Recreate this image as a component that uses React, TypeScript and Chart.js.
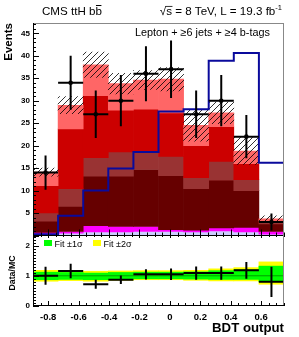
import React, { useEffect, useRef } from 'react';
import { Chart, registerables } from 'chart.js';

Chart.register(...registerables);

const FONT = "'Liberation Sans', Arial, Helvetica, sans-serif";

// BDT output bin edges (10 bins)
const binEdges = [-0.9, -0.735, -0.57, -0.405, -0.24, -0.075, 0.09, 0.255, 0.42, 0.585, 0.75];
const xTickValues = [-0.8, -0.6, -0.4, -0.2, 0, 0.2, 0.4, 0.6];
const xTickLabels = ['-0.8', '-0.6', '-0.4', '-0.2', '0', '0.2', '0.4', '0.6'];
const yTickValues = [5, 10, 15, 20, 25, 30, 35, 40, 45];
const ratioTickValues = [0, 1, 2];

// background components (bottom -> top of stack)
const ttV = [0.4, 0.5, 0.8, 0.8, 0.9, 0.9, 0.8, 1.0, 0.8, 0.3];
const singleT = [0.3, 0.4, 1.4, 1.2, 1.1, 0.4, 0.4, 0.7, 1.0, 0.6];
const ttbb = [2.5, 5.6, 11.0, 11.2, 12.7, 12.0, 9.2, 10.6, 8.2, 1.7];
const ttb = [1.8, 3.9, 4.1, 5.4, 3.9, 4.3, 2.5, 4.2, 2.4, 0.3];
const ttcc = [6.1, 13.3, 13.8, 9.3, 9.5, 9.7, 7.1, 7.7, 3.6, 0.2];
const ttlf = [3.0, 5.3, 6.9, 5.9, 6.5, 7.5, 4.5, 3.1, 2.8, 0.6];
const bkgUnc = [0.9, 1.9, 2.8, 2.3, 2.1, 2.6, 3.5, 2.4, 3.0, 0.7];

// ttH signal (scaled), data
const tthSignal = [0.3, 4.4, 10.0, 14.9, 18.6, 27.6, 28.1, 38.9, 40.6, 16.2];
const dataCounts = [14, 34, 27, 30, 36, 37, 27, 30, 22, 3];
const dataErr = [3.8, 6.0, 5.3, 5.7, 6.1, 6.4, 5.3, 5.7, 4.8, 1.9];

// ratio panel
const ratio = [1.0, 1.16, 0.72, 0.87, 1.05, 1.05, 1.09, 1.09, 1.18, 0.8];
const ratioErr = [0.3, 0.24, 0.15, 0.14, 0.17, 0.19, 0.22, 0.22, 0.28, 0.5];
const fit1Lo = [0.87, 0.88, 0.87, 0.89, 0.9, 0.9, 0.89, 0.88, 0.88, 0.8];
const fit1Hi = [1.12, 1.11, 1.09, 1.11, 1.12, 1.12, 1.13, 1.17, 1.2, 1.32];
const fit2Lo = [0.82, 0.84, 0.82, 0.85, 0.87, 0.87, 0.85, 0.83, 0.83, 0.72];
const fit2Hi = [1.18, 1.16, 1.15, 1.16, 1.17, 1.17, 1.18, 1.23, 1.27, 1.46];

const layerColors = ['#ccccff', '#ff00ff', '#660000', '#993333', '#cc0000', '#ff6666'];

function fitSize(ctx: CanvasRenderingContext2D, text: string, weight: string, target: number) {
  ctx.font = `${weight} 10px ${FONT}`;
  return (10 * target) / ctx.measureText(text).width;
}

const topDecor = {
  id: 'topDecor',
  afterDraw(chart: any) {
    const { ctx, chartArea: a } = chart;
    const x = chart.scales.x;
    const y = chart.scales.y;
    ctx.save();
    ctx.lineWidth = 1;
    ctx.strokeStyle = '#888';
    ctx.beginPath();
    ctx.moveTo(a.left, a.top + 0.5);
    ctx.lineTo(a.right, a.top + 0.5);
    ctx.moveTo(a.right - 0.5, a.top);
    ctx.lineTo(a.right - 0.5, a.bottom);
    ctx.stroke();
    ctx.strokeStyle = '#000';
    ctx.beginPath();
    ctx.moveTo(a.left + 0.5, a.top);
    ctx.lineTo(a.left + 0.5, a.bottom);
    ctx.moveTo(a.left, Math.round(a.bottom) - 0.5);
    ctx.lineTo(a.right, Math.round(a.bottom) - 0.5);
    for (let v = 0; v <= y.max; v += 1) {
      const py = Math.round(y.getPixelForValue(v)) + 0.5;
      const len = v % 5 === 0 ? 6 : 3;
      ctx.moveTo(a.left, py);
      ctx.lineTo(a.left + len, py);
    }
    for (let k = Math.ceil(x.min / 0.05 - 1e-9); k * 0.05 <= x.max + 1e-9; k++) {
      const px = Math.round(x.getPixelForValue(k * 0.05)) + 0.5;
      const len = k % 4 === 0 ? 6 : 3;
      ctx.moveTo(px, a.bottom);
      ctx.lineTo(px, a.bottom - len);
    }
    ctx.stroke();

    ctx.fillStyle = '#000';
    ctx.textBaseline = 'alphabetic';
    // header left: CMS ttH bb̄
    const s = fitSize(ctx, 'CMS ttH bb', 'normal', 60);
    ctx.font = `normal ${s}px ${FONT}`;
    ctx.textAlign = 'left';
    const t1 = 'CMS ttH b';
    ctx.fillText(t1, 42, 15);
    const bx = 42 + ctx.measureText(t1).width;
    ctx.fillText('b', bx, 15);
    const bw = ctx.measureText('b').width;
    ctx.fillRect(bx + 0.5, 15 - s * 0.86, bw - 1, 1);
    // header right
    const sup = '-1';
    ctx.font = `normal ${s * 0.65}px ${FONT}`;
    const supW = ctx.measureText(sup).width;
    ctx.font = `normal ${s}px ${FONT}`;
    const main = '\u221As = 8 TeV, L = 19.3 fb';
    const mw = ctx.measureText(main).width;
    const rx = 282 - supW - mw;
    ctx.fillText(main, rx, 15);
    const rw = ctx.measureText('\u221A').width;
    const sw = ctx.measureText('s').width;
    ctx.fillRect(rx + rw - 0.5, 15 - s * 0.78, sw + 1, 0.8);
    ctx.font = `normal ${s * 0.65}px ${FONT}`;
    ctx.fillText(sup, rx + mw, 15 - s * 0.4);

    // channel label
    const lt = 'Lepton + \u22656 jets + \u22654 b-tags';
    const ls = fitSize(ctx, lt, 'normal', 135);
    ctx.font = `normal ${ls}px ${FONT}`;
    ctx.fillText(lt, 135, 35.5);

    // y title
    ctx.save();
    ctx.translate(11.5, 23);
    ctx.rotate(-Math.PI / 2);
    ctx.textAlign = 'right';
    ctx.font = `bold 11.5px ${FONT}`;
    ctx.fillText('Events', 0, 0);
    ctx.restore();
    ctx.restore();
  },
};

const botDecor = {
  id: 'botDecor',
  afterDraw(chart: any) {
    const { ctx, chartArea: a } = chart;
    const x = chart.scales.x;
    const y = chart.scales.y;
    ctx.save();
    ctx.lineWidth = 1;
    ctx.strokeStyle = '#888';
    ctx.beginPath();
    ctx.moveTo(a.right - 0.5, a.top);
    ctx.lineTo(a.right - 0.5, a.bottom);
    ctx.stroke();
    ctx.strokeStyle = '#000';
    ctx.beginPath();
    ctx.moveTo(a.left + 0.5, a.top);
    ctx.lineTo(a.left + 0.5, a.bottom);
    ctx.moveTo(a.left, Math.round(a.bottom) - 0.5);
    ctx.lineTo(a.right, Math.round(a.bottom) - 0.5);
    for (let k = 0; k * 0.1 <= y.max + 1e-9; k++) {
      const py = Math.round(y.getPixelForValue(k * 0.1)) + 0.5;
      const len = k % 10 === 0 ? 6 : 3;
      ctx.moveTo(a.left, py);
      ctx.lineTo(a.left + len, py);
    }
    for (let k = Math.ceil(x.min / 0.05 - 1e-9); k * 0.05 <= x.max + 1e-9; k++) {
      const px = Math.round(x.getPixelForValue(k * 0.05)) + 0.5;
      const len = k % 4 === 0 ? 5 : 3;
      ctx.moveTo(px, a.bottom);
      ctx.lineTo(px, a.bottom - len);
      ctx.moveTo(px, a.top);
      ctx.lineTo(px, a.top + (k % 4 === 0 ? 3 : 2));
    }
    ctx.stroke();

    // legend
    ctx.fillStyle = '#00ff00';
    ctx.fillRect(44, 240, 8, 6);
    ctx.fillStyle = '#ffff00';
    ctx.fillRect(93, 240, 8, 6);
    ctx.fillStyle = '#000';
    ctx.textAlign = 'left';
    ctx.textBaseline = 'alphabetic';
    const l1 = 'Fit \u00B11\u03C3';
    const fs = fitSize(ctx, l1, 'normal', 28);
    ctx.font = `normal ${fs}px ${FONT}`;
    ctx.fillText(l1, 54.5, 246.5);
    ctx.fillText('Fit \u00B12\u03C3', 103.5, 246.5);

    // x title
    const xt = 'BDT output';
    const xs = fitSize(ctx, xt, 'bold', 72);
    ctx.font = `bold ${xs}px ${FONT}`;
    ctx.textAlign = 'right';
    ctx.fillText(xt, 284, 332);

    // y title
    ctx.save();
    ctx.translate(15, 273);
    ctx.rotate(-Math.PI / 2);
    ctx.textAlign = 'center';
    const ys = fitSize(ctx, 'Data/MC', 'bold', 35);
    ctx.font = `bold ${ys}px ${FONT}`;
    ctx.fillText('Data/MC', 0, 0);
    ctx.restore();
    ctx.restore();
  },
};

export default function App() {
  const topRef = useRef<HTMLCanvasElement>(null);
  const botRef = useRef<HTMLCanvasElement>(null);

  useEffect(() => {
    const centers = binEdges.slice(0, -1).map((e, i) => (e + binEdges[i + 1]) / 2);
    const nb = centers.length;

    const pc = document.createElement('canvas');
    pc.width = 6;
    pc.height = 6;
    const pctx = pc.getContext('2d')!;
    pctx.strokeStyle = '#000';
    pctx.lineWidth = 0.8;
    pctx.beginPath();
    pctx.moveTo(0, 6);
    pctx.lineTo(6, 0);
    pctx.moveTo(-1, 1);
    pctx.lineTo(1, -1);
    pctx.moveTo(5, 7);
    pctx.lineTo(7, 5);
    pctx.stroke();
    const hatch = topRef.current!.getContext('2d')!.createPattern(pc, 'repeat');

    const layers = [ttV, singleT, ttbb, ttb, ttcc, ttlf];
    let base = new Array(nb).fill(0);
    const barCommon = {
      type: 'bar' as const,
      borderWidth: 0,
      grouped: false,
      barPercentage: 1,
      categoryPercentage: 1,
    };
    const stackSets = layers.map((vals, li) => {
      const data = vals.map((v, i) => ({ x: centers[i], y: [base[i], base[i] + v] }));
      base = base.map((b, i) => b + vals[i]);
      return { ...barCommon, data, backgroundColor: layerColors[li], order: 30 - li };
    });
    const total = base;

    const hatchSet = {
      ...barCommon,
      data: total.map((t, i) => ({ x: centers[i], y: [t - bkgUnc[i], t + bkgUnc[i]] })),
      backgroundColor: hatch,
      order: 10,
    };

    const sigData = tthSignal.map((v, i) => ({ x: binEdges[i], y: v }));
    sigData.push({ x: binEdges[nb], y: tthSignal[nb - 1] });
    const sigSet = {
      type: 'line' as const,
      data: sigData,
      stepped: true,
      borderColor: '#0a0a9c',
      borderWidth: 2,
      pointRadius: 0,
      fill: false,
      order: 5,
    };

    const vBars = (vals: number[], errs: number[]) =>
      vals.flatMap((d, i) => [
        { x: centers[i], y: d - errs[i] },
        { x: centers[i], y: d + errs[i] },
        { x: centers[i], y: null as any },
      ]);
    const hBars = (vals: number[]) =>
      vals.flatMap((d, i) => [
        { x: binEdges[i], y: d },
        { x: binEdges[i + 1], y: d },
        { x: binEdges[i + 1], y: null as any },
      ]);
    const errLine = {
      type: 'line' as const,
      borderColor: '#000',
      borderWidth: 2,
      pointRadius: 0,
      fill: false,
      spanGaps: false,
      tension: 0,
      borderCapStyle: 'butt' as const,
      order: 3,
    };

    const topChart = new Chart(topRef.current!, {
      type: 'bar',
      data: {
        datasets: [
          ...stackSets,
          hatchSet,
          sigSet,
          { ...errLine, data: vBars(dataCounts, dataErr) },
          { ...errLine, data: hBars(dataCounts) },
          {
            type: 'line',
            data: dataCounts.map((d, i) => ({ x: centers[i], y: d })),
            showLine: false,
            pointRadius: 2.3,
            pointBackgroundColor: '#000',
            pointBorderWidth: 0,
            order: 1,
          },
        ] as any,
      },
      options: {
        responsive: false,
        animation: false,
        events: [],
        layout: { padding: { left: 0, right: 15, top: 23, bottom: 101.5 } },
        plugins: { legend: { display: false }, tooltip: { enabled: false } },
        scales: {
          x: {
            type: 'linear',
            offset: false,
            min: binEdges[0],
            max: binEdges[nb],
            display: false,
            grid: { offset: false },
            afterBuildTicks: (s: any) => {
              s.ticks = xTickValues.map((v) => ({ value: v }));
            },
          },
          y: {
            type: 'linear',
            min: 0,
            max: 47.3,
            afterFit: (s: any) => {
              s.width = 33;
            },
            afterBuildTicks: (s: any) => {
              s.ticks = yTickValues.map((v) => ({ value: v }));
            },
            grid: { display: false, drawTicks: false },
            border: { display: false },
            ticks: { padding: 3, color: '#000', font: { family: FONT, size: 8, weight: 'bold' } },
          },
        },
      } as any,
      plugins: [topDecor],
    });

    const botChart = new Chart(botRef.current!, {
      type: 'bar',
      data: {
        datasets: [
          {
            ...barCommon,
            data: fit2Lo.map((lo, i) => ({ x: centers[i], y: [lo, fit2Hi[i]] })),
            backgroundColor: '#ffff00',
            order: 20,
          },
          {
            ...barCommon,
            data: fit1Lo.map((lo, i) => ({ x: centers[i], y: [lo, fit1Hi[i]] })),
            backgroundColor: '#00ff00',
            order: 19,
          },
          {
            type: 'line',
            data: [
              { x: binEdges[0], y: 1 },
              { x: binEdges[nb], y: 1 },
            ],
            borderColor: 'rgba(0,90,0,0.6)',
            borderWidth: 1,
            pointRadius: 0,
            order: 10,
          },
          { ...errLine, data: vBars(ratio, ratioErr) },
          { ...errLine, data: hBars(ratio) },
        ] as any,
      },
      options: {
        responsive: false,
        animation: false,
        events: [],
        layout: { padding: { left: 0, right: 15, top: 235, bottom: 0 } },
        plugins: { legend: { display: false }, tooltip: { enabled: false } },
        scales: {
          x: {
            type: 'linear',
            offset: false,
            min: binEdges[0],
            max: binEdges[nb],
            afterFit: (s: any) => {
              s.height = 31;
            },
            afterBuildTicks: (s: any) => {
              s.ticks = xTickValues.map((v) => ({ value: v }));
            },
            grid: { display: false, drawTicks: false, offset: false },
            border: { display: false },
            ticks: {
              padding: 6,
              autoSkip: false,
              maxRotation: 0,
              color: '#000',
              font: { family: FONT, size: 9.5, weight: 'bold' },
              callback: (_v: any, i: number) => xTickLabels[i],
            },
          },
          y: {
            type: 'linear',
            min: 0,
            max: 2.35,
            afterFit: (s: any) => {
              s.width = 33;
            },
            afterBuildTicks: (s: any) => {
              s.ticks = ratioTickValues.map((v) => ({ value: v }));
            },
            grid: { display: false, drawTicks: false },
            border: { display: false },
            ticks: { padding: 3, color: '#000', font: { family: FONT, size: 8, weight: 'bold' } },
          },
        },
      } as any,
      plugins: [botDecor],
    });

    return () => {
      topChart.destroy();
      botChart.destroy();
    };
  }, []);

  return (
    <div style={{ position: 'absolute', left: 0, top: 0, width: 299, height: 337, background: '#fff' }}>
      <canvas ref={topRef} width={299} height={337} style={{ position: 'absolute', left: 0, top: 0 }} />
      <canvas ref={botRef} width={299} height={337} style={{ position: 'absolute', left: 0, top: 0 }} />
    </div>
  );
}
